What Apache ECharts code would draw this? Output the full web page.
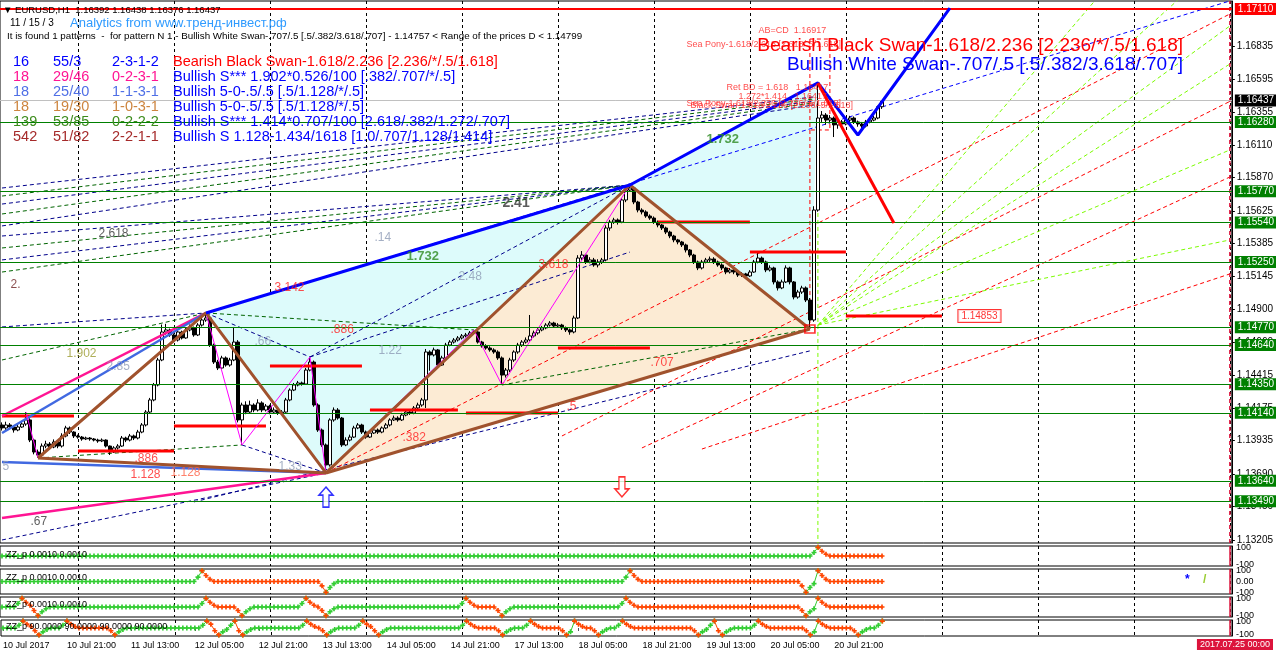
<!DOCTYPE html>
<html>
<head>
<meta charset="utf-8">
<title>EURUSD,H1</title>
<script src="https://cdn.jsdelivr.net/npm/echarts@6/dist/echarts.min.js"></script>
<style>
  html, body { margin: 0; padding: 0; background: #fff; }
  #chart { width: 1276px; height: 656px; }
</style>
</head>
<body>
<div id="chart"></div>
<script>
// ---- time axis
const tradeDays = ['10 Jul', '11 Jul', '12 Jul', '13 Jul', '14 Jul', '17 Jul', '18 Jul', '19 Jul', '20 Jul', '21 Jul']
const futureDays = ['21 Jul', '22 Jul', '23 Jul', '24 Jul', '25 Jul']

// ---- price axis
const priceTicks = [1.16835, 1.16595, 1.16355, 1.16110, 1.15870, 1.15625, 1.15385, 1.15145, 1.14900, 1.14660, 1.14415, 1.14175, 1.13935, 1.13690, 1.13450, 1.13205]
const greenLevels = [1.16280, 1.15770, 1.15540, 1.15250, 1.14770, 1.14640, 1.14350, 1.14140, 1.13640, 1.13490]
const targetLevel = 1.17110
const bidPrice = 1.16437

// ---- EURUSD H1 candles (open = previous close)
const firstOpen = 1.14051
const closes = [
  1.14029, 1.14051, 1.14036, 1.14014, 1.14036, 1.14058, 1.14088, 1.13940, 1.13852, 1.13830,
  1.13896, 1.13911, 1.13889, 1.13926, 1.13896, 1.13970, 1.14029, 1.13999, 1.13970, 1.13962,
  1.13948, 1.13955, 1.13948, 1.13940, 1.13933, 1.13940, 1.13896, 1.13852, 1.13882, 1.13896,
  1.13955, 1.13940, 1.13970, 1.13955, 1.13999, 1.14051, 1.14146, 1.14235, 1.14345, 1.14529,
  1.14735, 1.14750, 1.14713, 1.14676, 1.14735, 1.14691, 1.14750, 1.14765, 1.14713, 1.14786,
  1.14823, 1.14838, 1.14639, 1.14514, 1.14470, 1.14544, 1.14492, 1.14529, 1.14661, 1.14088,
  1.14198, 1.14146, 1.14198, 1.14161, 1.14213, 1.14161, 1.14190, 1.14146, 1.14161, 1.14139,
  1.14146, 1.14235, 1.14308, 1.14345, 1.14360, 1.14352, 1.14455, 1.14514, 1.14198, 1.14014,
  1.13904, 1.13757, 1.14088, 1.14161, 1.14102, 1.13904, 1.13940, 1.13962, 1.14029, 1.14051,
  1.13999, 1.13962, 1.13992, 1.14014, 1.13999, 1.14029, 1.14051, 1.14088, 1.14102, 1.14088,
  1.14124, 1.14146, 1.14139, 1.14176, 1.14198, 1.14235, 1.14588, 1.14566, 1.14603, 1.14492,
  1.14544, 1.14639, 1.14661, 1.14676, 1.14691, 1.14706, 1.14713, 1.14728, 1.14735, 1.14661,
  1.14632, 1.14617, 1.14603, 1.14588, 1.14544, 1.14418, 1.14455, 1.14529, 1.14588, 1.14639,
  1.14661, 1.14676, 1.14706, 1.14728, 1.14750, 1.14765, 1.14786, 1.14801, 1.14779, 1.14786,
  1.14765, 1.14750, 1.14735, 1.14838, 1.15279, 1.15301, 1.15250, 1.15265, 1.15228, 1.15250,
  1.15265, 1.15500, 1.15544, 1.15559, 1.15544, 1.15706, 1.15779, 1.15794, 1.15691, 1.15632,
  1.15618, 1.15588, 1.15573, 1.15544, 1.15522, 1.15500, 1.15470, 1.15441, 1.15412, 1.15397,
  1.15375, 1.15338, 1.15301, 1.15250, 1.15206, 1.15250, 1.15265, 1.15272, 1.15250, 1.15228,
  1.15206, 1.15176, 1.15191, 1.15176, 1.15154, 1.15162, 1.15147, 1.15176, 1.15250, 1.15279,
  1.15250, 1.15191, 1.15206, 1.15103, 1.15059, 1.15103, 1.15206, 1.15103, 1.14992, 1.15029,
  1.15059, 1.14970, 1.14823, 1.15632, 1.16309, 1.16331, 1.16294, 1.16309, 1.16258, 1.16280,
  1.16265, 1.16294, 1.16309, 1.16280, 1.16265, 1.16250, 1.16280, 1.16294, 1.16309, 1.16392, 1.16437
]
const highs = [
  1.14070, 1.14075, 1.14065, 1.14050, 1.14060, 1.14080, 1.14146, 1.14100, 1.13950, 1.13870,
  1.13915, 1.13935, 1.13925, 1.13945, 1.13935, 1.13990, 1.14045, 1.14040, 1.14005, 1.13980,
  1.13970, 1.13965, 1.13962, 1.13955, 1.13950, 1.13952, 1.13945, 1.13900, 1.13895, 1.13910,
  1.13970, 1.13965, 1.13985, 1.13980, 1.14015, 1.14065, 1.14160, 1.14250, 1.14360, 1.14545,
  1.14790, 1.14795, 1.14760, 1.14725, 1.14750, 1.14745, 1.14770, 1.14790, 1.14775, 1.14800,
  1.14840, 1.14875, 1.14850, 1.14650, 1.14530, 1.14560, 1.14555, 1.14545, 1.14772, 1.14675,
  1.14215, 1.14225, 1.14230, 1.14210, 1.14240, 1.14225, 1.14205, 1.14200, 1.14180, 1.14170,
  1.14160, 1.14250, 1.14320, 1.14360, 1.14375, 1.14370, 1.14470, 1.14551, 1.14525, 1.14210,
  1.14025, 1.13915, 1.14100, 1.14180, 1.14175, 1.14110, 1.13960, 1.13980, 1.14045, 1.14065,
  1.14060, 1.14010, 1.14005, 1.14030, 1.14025, 1.14040, 1.14065, 1.14100, 1.14120, 1.14115,
  1.14140, 1.14160, 1.14165, 1.14190, 1.14215, 1.14250, 1.14610, 1.14600, 1.14620, 1.14610,
  1.14560, 1.14655, 1.14675, 1.14690, 1.14705, 1.14720, 1.14728, 1.14742, 1.14750, 1.14745,
  1.14670, 1.14645, 1.14630, 1.14615, 1.14600, 1.14555, 1.14470, 1.14545, 1.14600, 1.14655,
  1.14675, 1.14695, 1.14860, 1.14745, 1.14765, 1.14780, 1.14800, 1.14815, 1.14810, 1.14800,
  1.14795, 1.14775, 1.14760, 1.14855, 1.15300, 1.15330, 1.15310, 1.15285, 1.15280, 1.15270,
  1.15280, 1.15520, 1.15560, 1.15575, 1.15570, 1.15720, 1.15795, 1.15816, 1.15805, 1.15700,
  1.15645, 1.15630, 1.15600, 1.15585, 1.15555, 1.15530, 1.15510, 1.15480, 1.15450, 1.15420,
  1.15405, 1.15385, 1.15345, 1.15310, 1.15260, 1.15265, 1.15280, 1.15290, 1.15285, 1.15260,
  1.15240, 1.15215, 1.15205, 1.15200, 1.15185, 1.15175, 1.15170, 1.15190, 1.15265, 1.15323,
  1.15290, 1.15260, 1.15225, 1.15215, 1.15115, 1.15120, 1.15225, 1.15215, 1.15110, 1.15045,
  1.15075, 1.15070, 1.14985, 1.15660, 1.16567, 1.16360, 1.16345, 1.16330, 1.16320, 1.16300,
  1.16295, 1.16310, 1.16325, 1.16320, 1.16290, 1.16280, 1.16295, 1.16310, 1.16325, 1.16400, 1.16438
]
const lows = [
  1.14010, 1.14015, 1.14020, 1.13995, 1.14005, 1.14030, 1.14045, 1.13925, 1.13835, 1.13808,
  1.13820, 1.13880, 1.13870, 1.13880, 1.13880, 1.13885, 1.13960, 1.13985, 1.13955, 1.13950,
  1.13935, 1.13940, 1.13935, 1.13930, 1.13920, 1.13925, 1.13885, 1.13830, 1.13845, 1.13870,
  1.13890, 1.13925, 1.13930, 1.13940, 1.13945, 1.13990, 1.14040, 1.14135, 1.14225, 1.14335,
  1.14520, 1.14715, 1.14700, 1.14660, 1.14665, 1.14680, 1.14685, 1.14740, 1.14700, 1.14705,
  1.14775, 1.14810, 1.14625, 1.14500, 1.14455, 1.14460, 1.14480, 1.14480, 1.14520, 1.14070,
  1.13904, 1.14130, 1.14135, 1.14145, 1.14150, 1.14145, 1.14150, 1.14130, 1.14135, 1.14125,
  1.14130, 1.14140, 1.14225, 1.14300, 1.14335, 1.14340, 1.14345, 1.14445, 1.14185, 1.14000,
  1.13890, 1.13698, 1.13745, 1.14075, 1.14090, 1.13890, 1.13895, 1.13930, 1.13955, 1.14020,
  1.13985, 1.13950, 1.13955, 1.13985, 1.13985, 1.13990, 1.14020, 1.14040, 1.14080, 1.14075,
  1.14080, 1.14115, 1.14125, 1.14130, 1.14165, 1.14185, 1.14176, 1.14450, 1.14555, 1.14480,
  1.14485, 1.14535, 1.14630, 1.14650, 1.14665, 1.14680, 1.14695, 1.14705, 1.14715, 1.14650,
  1.14620, 1.14605, 1.14590, 1.14575, 1.14530, 1.14345, 1.14400, 1.14440, 1.14515, 1.14575,
  1.14625, 1.14650, 1.14665, 1.14695, 1.14715, 1.14740, 1.14755, 1.14775, 1.14765, 1.14765,
  1.14750, 1.14735, 1.14715, 1.14725, 1.14830, 1.15265, 1.15235, 1.15240, 1.15215, 1.15210,
  1.15235, 1.15255, 1.15480, 1.15530, 1.15525, 1.15535, 1.15690, 1.15765, 1.15675, 1.15615,
  1.15600, 1.15575, 1.15560, 1.15530, 1.15505, 1.15485, 1.15455, 1.15425, 1.15395, 1.15380,
  1.15360, 1.15320, 1.15285, 1.15235, 1.15190, 1.15195, 1.15240, 1.15250, 1.15235, 1.15215,
  1.15190, 1.15160, 1.15165, 1.15160, 1.15140, 1.15140, 1.15130, 1.15140, 1.15170, 1.15240,
  1.15235, 1.15175, 1.15180, 1.15085, 1.15040, 1.15050, 1.15095, 1.15085, 1.14975, 1.14980,
  1.15015, 1.14955, 1.14757, 1.14810, 1.15620, 1.16280, 1.16260, 1.16270, 1.16169, 1.16230,
  1.16245, 1.16255, 1.16280, 1.16265, 1.16245, 1.16230, 1.16240, 1.16270, 1.16285, 1.16300, 1.16376
]

// ---- pattern pivots [bar, price]
const ptX = [9, 1.13808]
const ptA = [51, 1.14875]
const ptC1 = [60, 1.13904]
const ptC2 = [77, 1.14551]
const ptB = [81, 1.13698]
const ptP1 = [118, 1.14750]
const ptP2 = [125, 1.14345]
const ptC = [157, 1.15816]
const ptD = [202, 1.14757]
const ptT = [204, 1.16567]
const ptU = [214, 1.16184]
const ptV = [237, 1.17118]
const ptR = [223, 1.15537]

// left-edge anchors of the trend lines
const pinkUpStart = [0, 1.14117]
const blueUpStart = [0, 1.13992]
const blueLowStart = [0, 1.13779]
const pinkLowStart = [0, 1.13367]
const blueDashEnd = [307, 1.17170]

// dashed fans: [start price at bar 0, end price]
const fanToC = [1.15441, 1.15353, 1.15265, 1.15176]
const fanToT = [[1.15794, 1.16464], [1.15735, 1.16449], [1.15676, 1.16434], [1.15603, 1.16420], [1.15515, 1.16405]]

// red dashed channel [from, to]
const redChannel = [
  [ptB, [307, 1.17074]],
  [[140, 1.13970], [307, 1.16431]],
  [[160, 1.13882], [307, 1.15875]],
  [[175, 1.13874], [307, 1.15162]]
]
// light green fan from the D zone
const limeStart = [204, 1.14786]
const limeEnds = [[273, 1.17163], [294, 1.17177], [307, 1.16986], [307, 1.16706], [307, 1.16074], [307, 1.15412]]

// daily pivot segments [from bar, to bar, price]
const pivotSegs = [
  [0, 18, 1.14117], [19, 43, 1.13860], [43, 66, 1.14044], [67, 90, 1.14485], [92, 114, 1.14161],
  [116, 139, 1.14139], [139, 162, 1.14617], [164, 187, 1.15544], [187, 211, 1.15323], [211, 235, 1.14853]
]

// ratio labels [text, bar, price]
const redLabels = [['.886', 33, 1.13801], ['1.128', 32, 1.13683], ['.886', 82, 1.14750], ['3.142', 68, 1.15059],
  ['3.618', 134, 1.15228], ['.707', 162, 1.14507], ['.5', 141, 1.14183], ['.382', 100, 1.13955]]
const orangeLabels = [['1.128', 42, 1.13698]]
const grayLabels = [['2.85', 26, 1.14477], ['1.33', 69, 1.13742], ['.66', 63, 1.14661], ['1.22', 94, 1.14595],
  ['.14', 93, 1.15426], ['2.48', 114, 1.15140], ['5', 0, 1.13742]]
const darkLabels = [['2.618', 24, 1.15456], ['.67', 7, 1.13338]]
const noteLabels = [['AB=CD  1.16917', 189, 1.16956], ['Sea Pony-1.618/2.618 [2.618/.5/1.618]', 171, 1.16853],
  ['Ret BD = 1.618   1.16417', 181, 1.16530], ['1.272*1.414   1.16417', 184, 1.16464],
  ['Sea Pony-1.618/2.236 [2.236/.5/1.618]', 171, 1.16412], ['Black Swan-1.618/2.236 [2.236/.5/1.618]', 172, 1.16398]]

// zigzag pivots for the four sub windows
const zzHighs = [[204], [50, 157, 204], [5, 51, 76, 116, 156, 204],
  [5, 16, 51, 58, 76, 90, 116, 132, 143, 155, 178, 189, 204, 220]]
const zzLows = [[], [81, 201], [9, 60, 81, 125, 201],
  [9, 28, 54, 60, 81, 94, 125, 141, 149, 174, 180, 202, 214]]
const zzNames = ['ZZ_p 0.0010 0.0010', 'ZZ_p 0.0010 0.0010', 'ZZ_p 0.0010 0.0010', 'ZZ_p 90.0000 90.0000 90.0000 90.0000']

// ---------------------------------------------------------------
const categories = []
const hh = h => (h < 10 ? '0' : '') + h + ':00'
tradeDays.forEach((d, k) => {
  const h0 = k === 0 ? 5 : 0
  const h1 = k === tradeDays.length - 1 ? 9 : 23
  for (let h = h0; h <= h1; h++) categories.push(d + ' ' + hh(h))
})
futureDays.forEach((d, k) => {
  const h0 = k === 0 ? 10 : 0
  const h1 = k === futureDays.length - 1 ? 0 : 23
  for (let h = h0; h <= h1; h++) categories.push(d + ' ' + hh(h))
})
const lastBar = closes.length - 1
const futureBar = categories.length - 1

const candles = closes.map((c, i) => [i ? closes[i - 1] : firstOpen, c, lows[i], highs[i]])

const FONT = 'Liberation Sans, Arial, sans-serif'
const yMin = 1.131828
const yMax = 1.171697

const chart = echarts.init(document.getElementById('chart'))

const grids = [
  { left: 0, right: 44, top: 1, height: 542 },
  { left: 0, right: 44, top: 546, height: 20 },
  { left: 0, right: 44, top: 569, height: 25 },
  { left: 0, right: 44, top: 597, height: 20 },
  { left: 0, right: 44, top: 620, height: 16 }
].map(g => Object.assign(g, { show: true, borderColor: '#000', borderWidth: 1, backgroundColor: 'transparent' }))

const isMidnight = (idx, val) => /00:00$/.test(val)

const xAxes = grids.map((g, k) => ({
  type: 'category',
  gridIndex: k,
  data: categories,
  boundaryGap: true,
  axisLine: { show: false },
  axisTick: {
    show: k === 4, length: 3, alignWithLabel: true,
    interval: idx => idx % 16 === 0 && idx <= lastBar
  },
  axisLabel: {
    show: k === 4,
    interval: idx => idx % 16 === 0 && idx <= lastBar,
    formatter: (v, idx) => (idx === 0 ? '10 Jul 2017' : v),
    align: 'left', fontSize: 9, color: '#000', fontFamily: FONT, margin: 5
  },
  splitLine: {
    show: true, interval: isMidnight, alignWithLabel: true,
    lineStyle: { color: '#000', type: [3, 3], width: 1 }
  }
}))

const yAxes = [{
  type: 'value', gridIndex: 0, position: 'right', min: yMin, max: yMax, scale: true,
  axisLine: { show: true, lineStyle: { color: '#000' } },
  axisTick: { show: true, length: 3, customValues: priceTicks, lineStyle: { color: '#000' } },
  axisLabel: {
    customValues: priceTicks, formatter: v => v.toFixed(5),
    fontSize: 10, color: '#000', fontFamily: FONT, margin: 5
  },
  splitLine: { show: false }
}]
for (let k = 1; k <= 4; k++) {
  yAxes.push({
    type: 'value', gridIndex: k, position: 'right', min: -115, max: 115,
    axisLine: { show: true, lineStyle: { color: '#000' } },
    axisTick: { show: false },
    axisLabel: {
      customValues: [-100, 0, 100], formatter: v => (v === 0 ? '0.00' : String(v)),
      hideOverlap: false, showMinLabel: true, showMaxLabel: true,
      fontSize: 9, color: '#000', fontFamily: FONT, margin: 4
    },
    splitLine: { show: false }
  })
}

const series = []

// filled pattern triangles
function triSeries(tris, color) {
  return {
    type: 'custom', xAxisIndex: 0, yAxisIndex: 0, silent: true, z: 1, clip: true,
    encode: { x: [0, 2, 4], y: [1, 3, 5] },
    data: tris.map(t => [].concat(t[0], t[1], t[2])),
    renderItem: (params, api) => {
      const pts = []
      for (let k = 0; k < 3; k++) pts.push(api.coord([api.value(2 * k), api.value(2 * k + 1)]))
      return { type: 'polygon', shape: { points: pts }, style: { fill: color } }
    }
  }
}
series.push(triSeries([[ptA, ptB, ptC], [ptC, ptD, ptT]], '#DDFBFB'))
series.push(triSeries([[ptB, ptC, ptD]], '#FCEBD4'))

function seg(pts, color, width, dashed, z) {
  return {
    type: 'line', xAxisIndex: 0, yAxisIndex: 0, data: pts, symbol: 'none', silent: true,
    lineStyle: { color: color, width: width, type: dashed ? [4, 3] : 'solid' },
    z: z || 2, clip: true, animation: false
  }
}

// dashed fans
fanToC.forEach((p, k) => series.push(seg([[0, p], ptC], k % 2 ? '#006400' : '#00008B', 1, true)))
fanToT.forEach((p, k) => series.push(seg([[0, p[0]], [203, p[1]]], k % 2 ? '#006400' : '#00008B', 1, true)))
series.push(seg([[0, 1.14772], ptA], '#00008B', 1, true))
series.push(seg([[0, 1.14529], ptA], '#006400', 1, true))
series.push(seg([ptA, ptC2], '#00008B', 1, true))
series.push(seg([ptA, ptP1], '#006400', 1, true))
series.push(seg([ptC1, ptB], '#00008B', 1, true))
series.push(seg([ptX, ptC1], '#006400', 1, true))
series.push(seg([ptC2, ptC], '#00008B', 1, true))
series.push(seg([ptC2, [157, 1.15323]], '#00008B', 1, true))
series.push(seg([[0, 1.13205], ptB], '#00008B', 1, true))
series.push(seg([[48, 1.13485], [202, 1.14596]], '#00008B', 1, true))
series.push(seg([ptP2, ptD], '#006400', 1, true))
series.push(seg([ptA, blueDashEnd], '#0000FF', 1, true))
redChannel.forEach(r => series.push(seg(r, '#FF0000', 1, true)))
limeEnds.forEach(e => series.push(seg([limeStart, e], '#7CFC00', 1, true)))
series.push(seg([[204, 1.16074], [204, yMin]], '#7CFC00', 1, true))
series.push(seg([[202, 1.16890], ptD], '#FF0000', 1, true))
series.push(seg([[202, 1.16890], [207, 1.16890], [207, 1.16221], [202, 1.16221]], '#FF0000', 1, true))
series.push(seg([[futureBar, yMin], [futureBar, yMax]], '#DC143C', 1.5, true))

// daily pivot segments
pivotSegs.forEach(s => series.push(seg([[s[0], s[2]], [s[1], s[2]]], '#FF0000', 3, false, 4)))

// candles
series.push({
  type: 'candlestick', xAxisIndex: 0, yAxisIndex: 0, data: candles, barWidth: 3, z: 3, silent: true,
  itemStyle: { color: '#fff', color0: '#000', borderColor: '#000', borderColor0: '#000', borderWidth: 1 },
  markLine: {
    silent: true, symbol: ['none', 'none'], animation: false, precision: 5,
    data: greenLevels.map(v => ({
      yAxis: v, lineStyle: { color: '#008000', width: 1, type: 'solid' },
      label: { backgroundColor: '#008000' }
    })).concat([
      { yAxis: targetLevel, lineStyle: { color: '#FF0000', width: 2, type: 'solid' }, label: { backgroundColor: '#FF0000' } },
      { yAxis: bidPrice, lineStyle: { color: '#C0C0C0', width: 1, type: 'solid' }, label: { backgroundColor: '#000' } }
    ]),
    label: {
      show: true, position: 'end', distance: 3, formatter: p => p.value.toFixed(5),
      color: '#fff', fontSize: 10, fontFamily: FONT, padding: [1, 4, 1, 3]
    }
  }
})

// pattern legs
series.push(seg([pinkUpStart, ptA], '#FF1493', 2.5, false, 4))
series.push(seg([blueUpStart, ptA], '#4169E1', 2.5, false, 4))
series.push(seg([blueLowStart, ptB], '#4169E1', 2.5, false, 4))
series.push(seg([pinkLowStart, ptB], '#FF1493', 2.5, false, 4))
series.push(seg([[6, 1.14146], ptX], '#FF00FF', 1, false, 4))
series.push(seg([ptA, ptC1, ptC2, ptB], '#FF00FF', 1, false, 4))
series.push(seg([ptB, ptP1, ptP2, ptC], '#FF00FF', 1, false, 4))
series.push(seg([ptX, ptA, ptB, ptC, ptD], '#A0522D', 3, false, 5))
series.push(seg([ptX, ptB], '#A0522D', 3, false, 5))
series.push(seg([ptB, ptD], '#A0522D', 3, false, 5))
series.push(seg([ptA, ptC, ptT, ptU, ptV], '#0000FF', 3, false, 5))
series.push(seg([ptT, ptR], '#FF0000', 3, false, 5))

// ratio texts
function textSeries(items, color, size, weight) {
  return {
    type: 'scatter', xAxisIndex: 0, yAxisIndex: 0, symbolSize: 1, silent: true, z: 6,
    itemStyle: { color: 'rgba(0,0,0,0)' },
    data: items.map(t => ({ name: t[0], value: [t[1], t[2]] })),
    label: {
      show: true, position: 'right', distance: 0, formatter: '{b}', color: color,
      fontSize: size, fontWeight: weight || 'normal', fontFamily: FONT
    }
  }
}
series.push(textSeries(redLabels, '#FF2020', 12))
series.push(textSeries(orangeLabels, '#FF6347', 12))
series.push(textSeries(grayLabels, '#8D9BB5', 12))
series.push(textSeries(darkLabels, '#333', 12))
series.push(textSeries([['2.', 2, 1.15081]], '#6B1F1F', 12))
series.push(textSeries([['1.902', 16, 1.14573]], '#9A9A2E', 12))
series.push(textSeries([['1.732', 101, 1.15294], ['1.732', 176, 1.16148]], '#2E8B22', 13, 'bold'))
series.push(textSeries([['2.41', 125, 1.15684]], '#333', 14, 'bold'))
series.push(textSeries(noteLabels, '#FF2020', 9))
series.push({
  type: 'scatter', xAxisIndex: 0, yAxisIndex: 0, symbolSize: 1, silent: true, z: 6,
  itemStyle: { color: 'rgba(0,0,0,0)' },
  data: [{ name: '1.14853', value: [239, 1.14853] }],
  label: {
    show: true, position: 'right', distance: 0, formatter: '{b}', color: '#FF0000', fontSize: 10,
    fontFamily: FONT, backgroundColor: '#fff', borderColor: '#FF0000', borderWidth: 1, padding: [1, 3]
  }
})

// arrows and D box
series.push({
  type: 'scatter', xAxisIndex: 0, yAxisIndex: 0, silent: true, z: 6,
  symbol: 'path://M7,0 L14,8 L10,8 L10,20 L4,20 L4,8 L0,8 Z', symbolSize: [14, 20],
  itemStyle: { color: '#fff', borderColor: '#0000FF', borderWidth: 1.5 },
  data: [[81, 1.13521]]
})
series.push({
  type: 'scatter', xAxisIndex: 0, yAxisIndex: 0, silent: true, z: 6,
  symbol: 'path://M4,0 L10,0 L10,12 L14,12 L7,20 L0,12 L4,12 Z', symbolSize: [14, 20],
  itemStyle: { color: '#fff', borderColor: '#FF0000', borderWidth: 1.5 },
  data: [[155, 1.13595]]
})
series.push({
  type: 'scatter', xAxisIndex: 0, yAxisIndex: 0, silent: true, z: 6,
  symbol: 'rect', symbolSize: [10, 8],
  itemStyle: { color: 'rgba(0,0,0,0)', borderColor: '#FF0000', borderWidth: 1.5 },
  data: [ptD]
})

// zigzag sub windows
const plus = 'path://M2,0H4V2H6V4H4V6H2V4H0V2H2Z'
zzHighs.forEach((hs, k) => {
  const ls = zzLows[k]
  const n = closes.length
  const v = new Array(n).fill(0)
  hs.forEach(p => { if (p > 0) v[p - 1] = 40; if (p + 1 < n) v[p + 1] = 55; if (p + 2 < n) v[p + 2] = 20 })
  ls.forEach(q => { if (q > 0) v[q - 1] = -40; if (q + 1 < n) v[q + 1] = -55; if (q + 2 < n) v[q + 2] = -20 })
  hs.forEach(p => { v[p] = 100 })
  ls.forEach(q => { v[q] = -100 })
  const green = new Array(n).fill(null)
  const orange = new Array(n).fill(null)
  let state = 'g'
  for (let i = 0; i < n; i++) {
    if (hs.includes(i)) state = 'o'
    if (ls.includes(i)) state = 'g'
    const arr = state === 'g' ? green : orange
    arr[i] = v[i]
    if (i + 1 < n) arr[i + 1] = v[i + 1]
  }
  ;[[green, '#32CD32'], [orange, '#FF4500']].forEach(([d, c]) => {
    series.push({
      type: 'line', xAxisIndex: k + 1, yAxisIndex: k + 1, data: d, silent: true, z: 3,
      symbol: plus, symbolSize: 5, showAllSymbol: true, connectNulls: false,
      itemStyle: { color: c }, lineStyle: { color: c, width: 1 }
    })
  })
  series.push({
    type: 'line', xAxisIndex: k + 1, yAxisIndex: k + 1, symbol: 'none', silent: true, z: 2,
    data: [[futureBar, -115], [futureBar, 115]], lineStyle: { color: '#DC143C', width: 1.5 }
  })
})

// ---- fixed texts
const txt = (x, y, text, fill, size, extra) => ({
  type: 'text', x: x, y: y, z: 100,
  style: Object.assign({ text: text, fill: fill, font: size + 'px ' + FONT, textVerticalAlign: 'middle' }, extra || {})
})
const rows = [
  ['16', '55/3', '2-3-1-2', 'Bearish Black Swan-1.618/2.236 [2.236/*/.5/1.618]', '#0000FF', '#FF0000'],
  ['18', '29/46', '0-2-3-1', 'Bullish S*** 1.902*0.526/100 [.382/.707/*/.5]', '#FF1493', '#0000FF'],
  ['18', '25/40', '1-1-3-1', 'Bullish 5-0-.5/.5 [.5/1.128/*/.5]', '#4F6FE6', '#0000FF'],
  ['18', '19/30', '1-0-3-1', 'Bullish 5-0-.5/.5 [.5/1.128/*/.5]', '#CD853F', '#0000FF'],
  ['139', '53/85', '0-2-2-2', 'Bullish S*** 1.414*0.707/100 [2.618/.382/1.272/.707]', '#3C8C1C', '#0000FF'],
  ['542', '51/82', '2-2-1-1', 'Bullish S 1.128-1.434/1618 [1.0/.707/1.128/1.414]', '#A52A2A', '#0000FF']
]
const graphics = [
  txt(3, 10, '▼ EURUSD,H1  1.16392 1.16438 1.16376 1.16437', '#000', 9.5),
  txt(10, 23, '11 / 15 / 3', '#000', 10),
  txt(70, 23, 'Analytics from www.тренд-инвест.рф', '#2F9BFF', 13),
  txt(7, 36, 'It is found 1 patterns  -  for pattern N 1 - Bullish White Swan-.707/.5 [.5/.382/3.618/.707] - 1.14757 < Range of the prices D < 1.14799', '#000', 9.8),
  txt(1183, 46, 'Bearish Black Swan-1.618/2.236 [2.236/*/.5/1.618]', '#FF0000', 19, { textAlign: 'right' }),
  txt(1183, 65, 'Bullish White Swan-.707/.5 [.5/.382/3.618/.707]', '#0000FF', 19, { textAlign: 'right' }),
  txt(1185, 580, '*', '#0000FF', 18, { fontWeight: 'bold' }),
  txt(1203, 580, '/', '#9ACD32', 16, { fontWeight: 'bold' }),
  {
    type: 'text', right: 3, top: 639, z: 100,
    style: { text: '2017.07.25 00:00', fill: '#fff', font: '9px ' + FONT, backgroundColor: '#DC143C', padding: [1, 3] }
  }
]
rows.forEach((r, k) => {
  const y = 62 + k * 15
  graphics.push(txt(13, y, r[0], r[4], 14.5), txt(53, y, r[1], r[4], 14.5), txt(112, y, r[2], r[4], 14.5), txt(173, y, r[3], r[5], 14.5))
})
const zzY = [555, 578, 605, 627]
zzNames.forEach((t, k) => graphics.push(txt(6, zzY[k], t, '#000', 9)))

chart.setOption({
  animation: false,
  backgroundColor: '#fff',
  grid: grids,
  xAxis: xAxes,
  yAxis: yAxes,
  series: series,
  graphic: graphics
})
</script>
</body>
</html>
